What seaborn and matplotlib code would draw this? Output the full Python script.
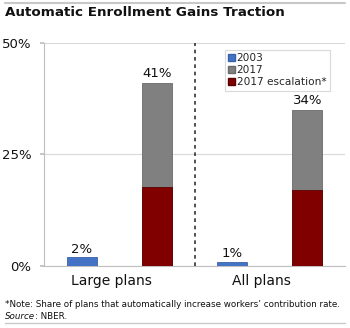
import matplotlib
matplotlib.use("Agg")
import matplotlib.pyplot as plt
import matplotlib.patches as mpatches
import matplotlib.transforms as mtransforms
import seaborn as sns
import pandas as pd

plans = ["Large plans", "All plans"]
series_2003 = [1.9, 0.9]
series_2017 = [41.0, 35.0]
series_escalation = [17.7, 17.0]
labels_2003 = ["2%", "1%"]
labels_2017 = ["41%", "34%"]
yticks = [0, 25, 50]
ytick_labels = ["0%", "25%", "50%"]

C2003 = "#4472C4"
C2017 = "#808080"
CESC = "#800000"

sns.set_theme(style="white")
plt.rcParams["font.family"] = ["DejaVu Sans"]

df_tot = pd.DataFrame({
    "plan": plans * 2,
    "series": ["2003"] * 2 + ["2017"] * 2,
    "value": series_2003 + series_2017,
})
df_esc = pd.DataFrame({
    "plan": plans * 2,
    "series": ["2003"] * 2 + ["2017"] * 2,
    "value": [float("nan")] * 2 + series_escalation,
})

fig = plt.figure(figsize=(3.5, 3.28), dpi=100)
ax = fig.add_axes([44 / 350, 1 - 265.7 / 328, 301 / 350, 222.7 / 328])

sns.barplot(data=df_tot, x="plan", y="value", hue="series", hue_order=["2003", "2017"],
            order=plans, palette=[C2003, C2017], width=1.0, gap=0.6, legend=False,
            saturation=1, edgecolor="#6a6a6a", linewidth=0.6, ax=ax, zorder=3)
sns.barplot(data=df_esc, x="plan", y="value", hue="series", hue_order=["2003", "2017"],
            order=plans, palette=[C2003, CESC], width=1.0, gap=0.6, legend=False,
            saturation=1, edgecolor="#5a0000", linewidth=0.6, ax=ax, zorder=4)
for p in ax.containers[0]:
    p.set_edgecolor("#3a62a8")

ax.bar_label(ax.containers[0], labels=labels_2003, padding=1, fontsize=9.5, color="#111111")
ax.bar_label(ax.containers[1], labels=labels_2017, padding=2, fontsize=9.5, color="#111111")

ax.set_xlim(-0.5, 1.5)
ax.set_ylim(0, 50)
ax.set_yticks(yticks)
ax.set_yticklabels(ytick_labels, fontsize=9.5, color="#111111")
ax.set_xlabel("")
ax.set_ylabel("")
ax.tick_params(axis="y", length=3, color="#bfbfbf", pad=6, left=True)
ax.tick_params(axis="x", length=0, pad=6, labelsize=10, labelcolor="#111111")
for lbl in ax.get_xticklabels():
    lbl.set_transform(lbl.get_transform() + mtransforms.ScaledTranslation(-8 / 100, 0, fig.dpi_scale_trans))

ax.yaxis.grid(True, color="#d9d9d9", linewidth=0.8, zorder=0)
ax.set_axisbelow(True)
for s in ["top", "right"]:
    ax.spines[s].set_visible(False)
ax.spines["left"].set_color("#bfbfbf")
ax.spines["bottom"].set_color("#bfbfbf")
ax.spines["left"].set_linewidth(0.8)
ax.spines["bottom"].set_linewidth(0.8)

ax.axvline(0.5, color="#333333", linestyle=(0, (2.2, 2.2)), linewidth=1.2, zorder=5)

handles = [mpatches.Patch(facecolor=C2003, edgecolor="#3a62a8", label="2003"),
           mpatches.Patch(facecolor=C2017, edgecolor="#6a6a6a", label="2017"),
           mpatches.Patch(facecolor=CESC, edgecolor="#5a0000", label="2017 escalation*")]
leg = ax.legend(handles=handles, loc="upper left", bbox_to_anchor=(225 / 350, 1 - 50 / 328),
                bbox_transform=fig.transFigure, fontsize=7.6, frameon=True, fancybox=False,
                handlelength=0.6, handleheight=0.6, handletextpad=0.2, borderpad=0.3,
                labelspacing=0.2, borderaxespad=0)
leg.get_frame().set_edgecolor("#d0d0d0")
leg.get_frame().set_linewidth(0.8)

fig.text(5 / 350, 1 - 13 / 328, "Automatic Enrollment Gains Traction", fontsize=9.7,
         fontweight="bold", va="center", ha="left", color="#111111")
fig.add_artist(plt.Line2D([5 / 350, 345 / 350], [1 - 3 / 328] * 2, color="#c8c8c8", linewidth=1.5,
                          transform=fig.transFigure))
fig.add_artist(plt.Line2D([5 / 350, 345 / 350], [1 - 323 / 328] * 2, color="#c8c8c8", linewidth=1.0,
                          transform=fig.transFigure))
fig.text(5 / 350, 1 - 307 / 328,
         "*Note: Share of plans that automatically increase workers\u2019 contribution rate.",
         fontsize=6.3, va="baseline", ha="left", color="#111111")
src = fig.text(5 / 350, 1 - 319 / 328, "Source", fontsize=6.3, style="italic",
               va="baseline", ha="left", color="#111111")
fig.canvas.draw()
bb = src.get_window_extent()
fig.text(bb.x1 / 350, 1 - 319 / 328, ": NBER.", fontsize=6.3, va="baseline", ha="left",
         color="#111111")

fig.savefig("out.png", dpi=100)
